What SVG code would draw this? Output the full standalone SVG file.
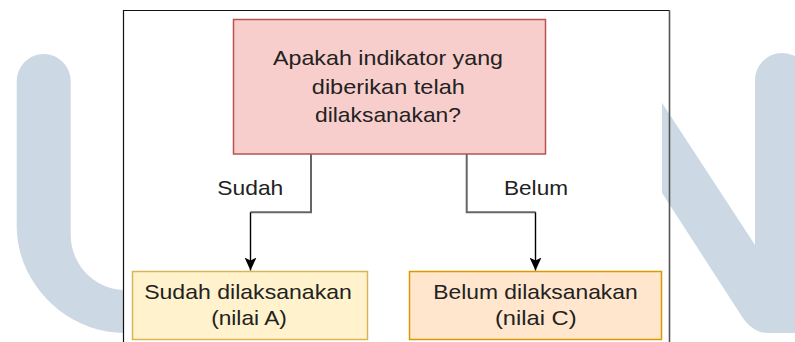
<svg xmlns="http://www.w3.org/2000/svg" width="795" height="342" viewBox="0 0 795 342">
<style>
.t{font-family:"Liberation Sans",Arial,sans-serif;font-size:21px;fill:#222;text-anchor:middle}
.wm{fill:#ccd8e3}
.edge-g{fill:none;stroke:#666;stroke-width:2}
.edge-b{fill:none;stroke:#000;stroke-width:1.4}
</style>
<defs>
<marker id="arr" viewBox="0 0 13 12" refX="13" refY="6" markerWidth="13" markerHeight="12" markerUnits="userSpaceOnUse" orient="auto">
<path d="M0 0 L13 6 L0 12 L3 6 Z" fill="#000"/>
</marker>
</defs>
<rect width="795" height="342" fill="#fff"/>
<g id="watermark">
<path class="wm" d="M16.7 81 A27 27 0 0 1 70.7 81 L70.7 235 C70.7 265 95 290 125 290 L125 333 C65.6 333 16.7 283 16.7 226 Z"/>
<path class="wm" d="M600 8 L755 245 L755 80 A27 27 0 0 1 809 80 L809 333 L768 333 Q751 333 739 312 L600 97 Z"/>
</g>
<rect x="123.5" y="0" width="538.5" height="342" fill="#fff"/>
<g id="frame">
<path d="M123.5 342 L123.5 10.5 L669.5 10.5" fill="none" stroke="#111" stroke-width="1.2"/>
<path d="M669.5 10.5 L669.5 342" fill="none" stroke="#555" stroke-width="1.6"/>
</g>
<g id="connectors">
<path class="edge-g" d="M311 154 L311 212.3 L250.5 212.3"/>
<path class="edge-b" d="M250.5 212.3 L250.5 270.5" marker-end="url(#arr)"/>
<path class="edge-g" d="M466.7 154 L466.7 212.3 L535.5 212.3"/>
<path class="edge-b" d="M535.5 212.3 L535.5 270.5" marker-end="url(#arr)"/>
<text class="t" x="250.3" y="194.5" textLength="66" lengthAdjust="spacingAndGlyphs">Sudah</text>
<text class="t" x="536" y="194.5" textLength="64" lengthAdjust="spacingAndGlyphs">Belum</text>
</g>
<g id="question">
<rect x="233.5" y="19.5" width="312" height="134.5" fill="#f8cecc" stroke="#b85450" stroke-width="1.5"/>
<text class="t" x="388" y="65" textLength="230" lengthAdjust="spacingAndGlyphs">Apakah indikator yang</text>
<text class="t" x="388.3" y="93.5" textLength="153" lengthAdjust="spacingAndGlyphs">diberikan telah</text>
<text class="t" x="388" y="121.7" textLength="146" lengthAdjust="spacingAndGlyphs">dilaksanakan?</text>
</g>
<g id="sudah">
<rect x="132.5" y="271.5" width="235" height="68" fill="#fff2cc" stroke="#d6b656" stroke-width="1.5"/>
<text class="t" x="248" y="299.3" textLength="207.7" lengthAdjust="spacingAndGlyphs">Sudah dilaksanakan</text>
<text class="t" x="249" y="325" textLength="75.7" lengthAdjust="spacingAndGlyphs">(nilai A)</text>
</g>
<g id="belum">
<rect x="409.5" y="271.5" width="252" height="68" fill="#ffe6cc" stroke="#d79b00" stroke-width="1.5"/>
<text class="t" x="535.5" y="299.3" textLength="204.4" lengthAdjust="spacingAndGlyphs">Belum dilaksanakan</text>
<text class="t" x="535.8" y="325" textLength="81.7" lengthAdjust="spacingAndGlyphs">(nilai C)</text>
</g>
</svg>
